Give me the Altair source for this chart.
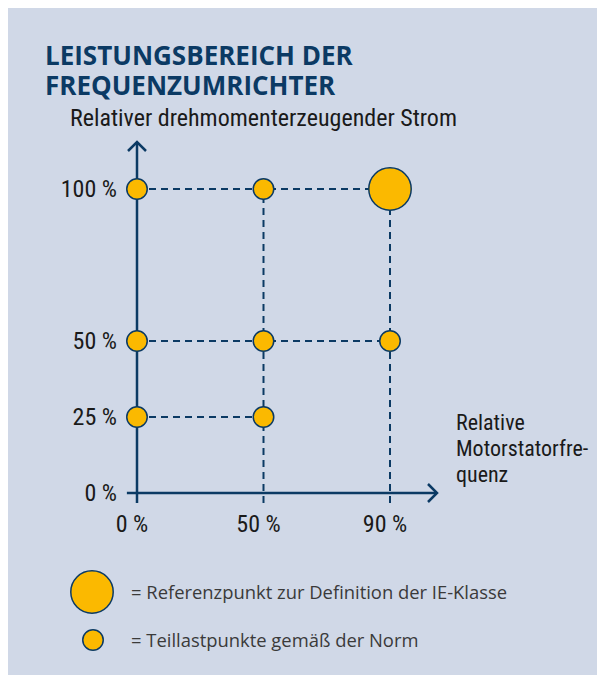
import altair as alt
import pandas as pd

# ---- data ----
x_tick_labels = ["0 %", "50 %", "90 %"]
x_tick_pos = [0, 1, 2]
y_tick_values = [0, 25, 50, 100]
y_tick_labels = ["0 %", "25 %", "50 %", "100 %"]

part_x = [0, 1, 0, 1, 2, 0, 1]
part_y = [25, 25, 50, 50, 50, 100, 100]
ref_x = [2]
ref_y = [100]

h_guide_y = [25, 50, 100]
h_guide_xend = [1, 2, 2]
v_guide_x = [1, 2]
v_guide_yend = [100, 100]

title_lines = ["LEISTUNGSBEREICH DER", "FREQUENZUMRICHTER"]
y_title = "Relativer drehmomenterzeugender Strom"
x_title_lines = ["Relative", "Motorstatorfre-", "quenz"]
legend_texts = ["= Referenzpunkt zur Definition der IE-Klasse",
                "= Teillastpunkte gemäß der Norm"]

BG = "#d0d8e7"
NAVY = "#0b3a64"
YELLOW = "#fbb900"
NARROW = "Roboto Condensed, Liberation Sans Narrow, Arial Narrow, DejaVu Sans Condensed, sans-serif"

xs = alt.Scale(domain=[0, 2], range=[129, 382])
ys = alt.Scale(domain=[0, 100], range=[485, 181])

def X(f):
    return alt.X(f, type="quantitative", scale=xs, axis=None)

def Y(f):
    return alt.Y(f, type="quantitative", scale=ys, axis=None)

hg = pd.DataFrame({"y": h_guide_y, "x": [0] * 3, "x2": h_guide_xend})
vg = pd.DataFrame({"x": v_guide_x, "y": [-3.3] * 2, "y2": v_guide_yend})
h_rules = alt.Chart(hg).mark_rule(color=NAVY, strokeWidth=2, strokeDash=[7, 5]).encode(
    x=X("x"), x2="x2", y=Y("y"))
v_rules = alt.Chart(vg).mark_rule(color=NAVY, strokeWidth=2, strokeDash=[7, 5]).encode(
    x=X("x"), y=Y("y"), y2="y2")

axes_df = pd.DataFrame({"x": [-0.08], "y": [-3.3]})
x_axis = alt.Chart(axes_df).mark_rule(color=NAVY, strokeWidth=2.5).encode(
    x=X("x"), x2=alt.value(429), y=alt.Y(datum=0, scale=ys, axis=None))
y_axis = alt.Chart(axes_df).mark_rule(color=NAVY, strokeWidth=2.5).encode(
    y=Y("y"), y2=alt.value(134), x=alt.X(datum=0, scale=xs, axis=None))

arrow_x = alt.Chart(axes_df).mark_point(
    shape="M-1,-1L0,0L-1,1", size=324, filled=False, color=NAVY, strokeWidth=2.5, opacity=1
).encode(x=alt.value(429), y=alt.value(485))
arrow_y = alt.Chart(axes_df).mark_point(
    shape="M-1,1L0,0L1,1", size=324, filled=False, color=NAVY, strokeWidth=2.5, opacity=1
).encode(x=alt.value(129), y=alt.value(134))

pts = alt.Chart(pd.DataFrame({"x": part_x, "y": part_y})).mark_point(
    shape="circle", size=420, filled=True, fill=YELLOW, stroke=NAVY, strokeWidth=1.5, opacity=1
).encode(x=X("x"), y=Y("y"))
ref = alt.Chart(pd.DataFrame({"x": ref_x, "y": ref_y})).mark_point(
    shape="circle", size=1800, filled=True, fill=YELLOW, stroke=NAVY, strokeWidth=1.5, opacity=1
).encode(x=X("x"), y=Y("y"))

xlab = alt.Chart(pd.DataFrame({"x": x_tick_pos, "t": x_tick_labels})).mark_text(
    font=NARROW, fontSize=24, color="#1a1a1a", align="center", baseline="alphabetic", dx=-5, dy=39
).encode(x=X("x"), y=alt.Y(datum=0, scale=ys, axis=None), text="t:N")
ylab = alt.Chart(pd.DataFrame({"y": y_tick_values, "t": y_tick_labels})).mark_text(
    font=NARROW, fontSize=24, color="#1a1a1a", align="right", baseline="middle", dx=-20, dy=1
).encode(y=Y("y"), x=alt.X(datum=0, scale=xs, axis=None), text="t:N")

def txt(s, x, y, **kw):
    return alt.Chart(pd.DataFrame({"t": [s]})).mark_text(baseline="alphabetic", align="left", **kw).encode(
        x=alt.value(x), y=alt.value(y), text="t:N")

layers = [h_rules, v_rules, x_axis, y_axis, arrow_x, arrow_y, pts, ref, xlab, ylab]
for i, s in enumerate(title_lines):
    layers.append(txt(s, 37, 57 + 30 * i, font="Open Sans", fontWeight="bold", fontSize=26, color=NAVY))
layers.append(txt(y_title, 62, 118, font=NARROW, fontSize=24, color="#1a1a1a"))
for i, s in enumerate(x_title_lines):
    layers.append(txt(s, 448, 422 + 26 * i, font=NARROW, fontSize=22, color="#1a1a1a"))

leg_big = alt.Chart(axes_df).mark_point(
    shape="circle", size=1800, filled=True, fill=YELLOW, stroke=NAVY, strokeWidth=1.5, opacity=1
).encode(x=alt.value(84), y=alt.value(584))
leg_small = alt.Chart(axes_df).mark_point(
    shape="circle", size=420, filled=True, fill=YELLOW, stroke=NAVY, strokeWidth=1.5, opacity=1
).encode(x=alt.value(85), y=alt.value(632))
layers += [leg_big, leg_small]
layers.append(txt(legend_texts[0], 123, 591, font="Open Sans", fontSize=18.4, color="#3a3a3a"))
layers.append(txt(legend_texts[1], 123, 639, font="Open Sans", fontSize=18.4, color="#3a3a3a"))

chart = alt.layer(*layers).properties(
    width=589, height=667, background=BG,
    autosize=alt.AutoSizeParams(type="none"), padding=0
).configure_view(strokeWidth=0, fill=BG)

chart.save("out.html", embed_options={"renderer": "svg", "actions": False})
